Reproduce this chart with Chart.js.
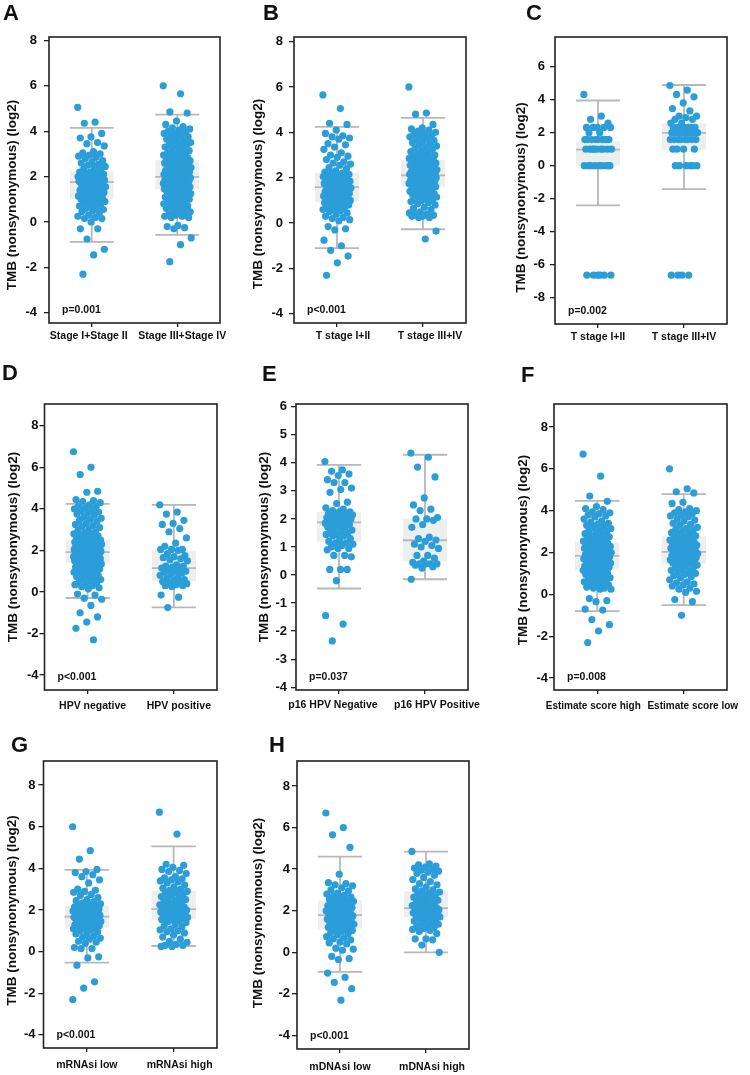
<!DOCTYPE html>
<html>
<head>
<meta charset="utf-8">
<script src="https://cdn.jsdelivr.net/npm/chart.js@4.4.1/dist/chart.umd.min.js"></script>
<style>
  body { margin: 0; background: #fff; width: 750px; height: 1075px; position: relative; overflow: hidden;
         font-family: "Liberation Sans", Arial, sans-serif; }
  canvas { position: absolute; }
  .letter { position: absolute; font-weight: bold; font-size: 22px; line-height: 1; color: #111; }
</style>
</head>
<body>
<script>
/* TMB by clinical group - jittered box plots */

// ---------- data ----------
const yTitle = 'TMB (nonsynonymous) (log2)';

// A: stage
const stageCats = ['Stage I+Stage II', 'Stage III+Stage IV'];
const stageLow = [5.05,4.4,4.35,3.9,3.75,3.7,3.5,3.45,3.35,3.1,3.05,3.0,2.95,2.9,2.85,2.8,2.7,2.65,2.6,2.55,2.5,2.45,2.4,2.35,2.3,
  2.2,2.2,2.15,2.15,2.1,2.1,2.05,2.05,2.0,2.0,2.0,1.95,1.95,1.9,1.9,1.9,1.85,1.85,1.85,1.8,1.8,1.8,1.8,1.75,1.75,
  1.7,1.7,1.65,1.6,1.6,1.55,1.5,1.5,1.45,1.4,1.4,1.35,1.3,1.3,1.25,1.2,1.2,1.15,1.15,1.1,1.1,1.05,1.05,1.0,1.0,
  0.95,0.9,0.85,0.8,0.8,0.75,0.7,0.65,0.6,0.55,0.5,0.45,0.4,0.3,0.25,0.2,0.15,0.15,0.0,-0.3,-0.3,-0.75,-1.2,-1.45,-2.3];
const stageHigh = [6.0,5.65,4.85,4.8,4.45,4.3,4.2,4.15,4.1,4.05,4.0,3.95,3.9,3.9,3.85,3.8,3.75,3.7,3.65,3.6,3.55,3.5,3.45,3.4,3.4,3.35,3.3,3.25,3.2,3.15,3.1,3.05,3.0,3.0,2.95,2.9,2.9,2.85,2.8,2.8,2.75,2.75,
  2.7,2.7,2.65,2.65,2.6,2.6,2.55,2.55,2.5,2.5,2.45,2.45,2.4,2.4,2.35,2.35,2.3,2.3,2.25,2.25,2.2,2.2,2.2,2.15,2.15,2.1,2.1,2.1,2.05,2.05,2.05,2.0,2.0,2.0,
  1.95,1.95,1.9,1.9,1.9,1.85,1.85,1.85,1.8,1.8,1.8,1.75,1.75,1.7,1.7,1.7,1.65,1.65,1.6,1.6,1.6,1.55,1.55,1.5,1.5,1.5,1.45,1.45,
  1.4,1.4,1.35,1.35,1.3,1.3,1.25,1.2,1.2,1.15,1.1,1.1,1.05,1.0,1.0,0.95,0.9,0.9,0.85,0.8,0.75,0.7,0.7,0.65,0.6,0.55,0.5,0.45,0.4,0.35,0.3,0.3,0.25,0.25,0.2,0.2,-0.15,-0.2,-0.25,-0.3,-0.7,-1.0,-1.75];
const stageBox = [[-0.88, 1.0, 1.76, 2.24, 4.15], [-0.57, 1.44, 1.99, 2.72, 4.73]]; // whisker lo, q1, median, q3, whisker hi
const stageTicks = [8, 6, 4, 2, 0, -2, -4];
const stageP = 'p=0.001';

// B: T stage
const tCats = ['T stage I+II', 'T stage III+IV'];
const tLow = [5.65,5.05,4.4,4.35,4.1,3.95,3.85,3.8,3.75,3.7,3.5,3.45,3.35,3.25,3.1,3.0,2.95,2.9,2.8,2.7,2.65,2.6,2.55,2.45,2.4,2.3,2.25,
  2.2,2.2,2.15,2.15,2.1,2.1,2.05,2.05,2.0,2.0,2.0,1.95,1.95,1.9,1.9,1.85,1.85,1.8,1.8,1.75,1.75,1.7,1.7,1.65,1.65,1.6,1.6,
  1.55,1.55,1.5,1.5,1.45,1.45,1.4,1.4,1.35,1.3,1.3,1.25,1.25,1.2,1.2,1.15,1.15,1.1,1.1,1.05,1.05,1.0,1.0,1.0,0.95,0.95,0.95,
  0.9,0.85,0.85,0.8,0.75,0.7,0.7,0.65,0.6,0.55,0.5,0.45,0.4,0.3,0.25,0.2,0.15,0.1,-0.15,-0.25,-0.3,-0.75,-1.0,-1.2,-1.45,-1.75,-2.3];
const tHigh = [6.0,4.85,4.8,4.35,4.2,4.15,4.1,4.05,4.0,3.95,3.9,3.85,3.85,3.8,3.75,3.7,3.65,3.6,3.55,3.5,3.45,3.4,3.35,3.3,3.25,3.2,3.15,3.1,3.05,3.0,3.0,2.95,2.9,2.9,2.85,2.85,2.8,2.8,
  2.75,2.75,2.7,2.7,2.65,2.65,2.6,2.6,2.55,2.55,2.5,2.5,2.45,2.45,2.4,2.4,2.4,2.35,2.35,2.3,2.3,2.3,2.25,2.25,2.25,2.2,2.2,2.2,2.15,2.15,2.15,2.1,2.1,
  2.05,2.05,2.05,2.0,2.0,2.0,1.95,1.95,1.95,1.9,1.9,1.9,1.85,1.85,1.85,1.8,1.8,1.8,1.75,1.75,1.7,1.7,1.7,1.65,1.65,1.6,1.6,
  1.55,1.5,1.5,1.45,1.4,1.4,1.35,1.3,1.3,1.25,1.2,1.2,1.15,1.1,1.05,1.0,1.0,0.95,0.9,0.85,0.8,0.7,0.65,0.6,0.5,0.45,0.4,0.4,0.35,0.3,0.3,0.25,0.25,-0.35,-0.7];
const tBox = [[-1.1, 0.93, 1.59, 2.22, 4.24], [-0.27, 1.59, 2.1, 2.77, 4.64]];
const tTicks = [8, 6, 4, 2, 0, -2, -4];
const tP = 'p<0.001';

// C: T stage (second cohort)
const t2Cats = ['T stage I+II', 'T stage III+IV'];
const t2Low = [4.32,3.0,2.81,2.58,2.32,2.32,2.32,2.32,2.32,2.0,2.0,
  1.58,1.58,1.58,1.58,1.58,1.58,1.58,1.58,1.58,1.0,1.0,1.0,1.0,1.0,1.0,1.0,1.0,1.0,
  0,0,0,0,0,0,0,0,0,-6.64,-6.64,-6.64,-6.64,-6.64,-6.64];
const t2High = [4.86,4.58,4.32,4.17,3.81,3.46,3.32,3.0,3.0,2.91,2.81,2.81,2.58,2.58,
  2.32,2.32,2.32,2.32,2.32,2.32,2.0,2.0,2.0,2.0,2.0,2.0,2.0,2.0,1.58,1.58,1.58,1.58,1.58,1.58,1.58,1.58,
  1.0,1.0,1.0,1.0,0,0,0,0,0,0,-6.64,-6.64,-6.64,-6.64];
const t2Box = [[-2.41, 0.0, 0.97, 1.48, 3.95], [-1.42, 0.97, 1.99, 2.56, 4.89]];
const t2Ticks = [6, 4, 2, 0, -2, -4, -6, -8];
const t2P = 'p=0.002';

// D: HPV
const hpvCats = ['HPV negative', 'HPV positive'];
const hpvNeg = [6.75,6.0,5.65,4.85,4.8,4.45,4.4,4.35,4.3,4.2,4.15,4.1,4.05,4.0,3.95,3.9,3.85,3.8,3.75,3.7,3.6,3.55,3.5,3.45,3.4,3.3,3.25,3.2,3.15,3.1,3.0,2.95,2.9,2.85,2.8,2.75,2.7,2.7,2.65,2.6,2.6,2.55,
  2.5,2.5,2.45,2.45,2.45,2.4,2.4,2.4,2.35,2.35,2.35,2.3,2.3,2.3,2.25,2.25,2.25,2.2,2.2,2.2,2.15,2.15,2.15,2.1,2.1,2.1,2.05,2.05,2.05,2.0,2.0,2.0,1.95,1.95,1.95,
  1.9,1.9,1.9,1.85,1.85,1.85,1.8,1.8,1.8,1.75,1.75,1.75,1.7,1.7,1.7,1.65,1.65,1.65,1.6,1.6,1.6,1.55,1.55,1.55,1.5,1.5,1.5,1.45,1.45,1.45,
  1.4,1.4,1.35,1.35,1.3,1.3,1.25,1.25,1.2,1.2,1.15,1.1,1.1,1.05,1.0,1.0,0.95,0.9,0.85,0.8,0.8,0.75,0.7,0.65,0.6,0.55,0.5,0.45,0.4,0.35,0.3,0.25,0.2,0.15,
  -0.1,-0.15,-0.3,-0.35,-0.65,-1.0,-1.2,-1.45,-1.75,-2.3];
const hpvPos = [4.2,3.85,3.75,3.45,3.3,3.25,3.05,2.9,2.6,2.35,2.2,2.05,2.05,2.05,2.0,1.85,1.75,1.7,1.65,1.6,1.55,1.5,1.3,1.25,1.25,
  1.2,1.15,1.1,1.05,1.0,1.0,0.95,0.9,0.85,0.8,0.7,0.65,0.6,0.55,0.5,0.45,0.4,0.4,0.35,0.3,0.3,0.25,-0.15,-0.25,-0.75];
const hpvBox = [[-0.29, 1.42, 1.92, 2.51, 4.24], [-0.74, 0.51, 1.15, 1.98, 4.19]];
const hpvTicks = [8, 6, 4, 2, 0, -2, -4];
const hpvP = 'p<0.001';

// E: p16
const p16Cats = ['p16 HPV Negative', 'p16 HPV Positive'];
const p16Neg = [4.05,3.75,3.7,3.6,3.55,3.4,3.3,3.3,3.1,3.05,2.95,2.6,2.55,2.4,2.35,2.3,2.25,2.25,2.2,2.2,2.15,2.15,2.1,2.1,2.1,
  2.05,2.05,2.0,2.0,2.0,1.95,1.95,1.9,1.9,1.85,1.85,1.8,1.8,1.75,1.7,1.7,1.65,1.6,1.55,1.5,1.5,1.45,1.45,1.4,1.4,
  1.3,1.25,1.2,1.15,1.15,1.1,1.05,1.0,0.95,0.95,0.9,0.7,0.7,0.65,0.2,0.2,0.2,-0.2,-1.45,-1.75,-2.35];
const p16Pos = [4.35,4.2,3.85,3.5,2.75,2.5,2.35,2.3,2.05,2.0,2.0,1.95,1.8,1.7,1.35,1.3,1.25,1.2,1.1,1.05,1.0,0.95,
  0.7,0.7,0.6,0.5,0.45,0.4,0.4,0.4,0.4,0.35,0.3,0.25,-0.15];
const p16Box = [[-0.48, 1.18, 1.88, 2.26, 3.93], [-0.15, 0.49, 1.24, 2.02, 4.29]];
const p16Ticks = [6, 5, 4, 3, 2, 1, 0, -1, -2, -3, -4];
const p16P = 'p=0.037';

// F: estimate score
const estCats = ['Estimate score high', 'Estimate score low'];
const estHigh = [6.7,5.65,4.7,4.45,4.2,4.1,4.05,3.95,3.9,3.85,3.8,3.75,3.7,3.6,3.5,3.45,3.4,3.35,3.3,3.25,3.2,3.15,3.1,3.05,3.0,2.95,2.9,2.85,2.8,2.75,2.7,2.65,2.6,2.6,2.55,2.5,
  2.45,2.45,2.4,2.4,2.35,2.35,2.3,2.3,2.25,2.25,2.2,2.2,2.15,2.15,2.1,2.1,2.05,2.05,2.0,2.0,2.0,1.95,1.95,1.9,1.9,1.85,1.85,
  1.8,1.8,1.75,1.75,1.7,1.7,1.65,1.65,1.6,1.6,1.55,1.55,1.5,1.5,1.45,1.45,1.4,1.4,1.35,1.35,1.3,1.3,1.25,1.25,1.2,1.2,
  1.15,1.1,1.05,1.0,1.0,0.95,0.9,0.85,0.8,0.75,0.7,0.65,0.65,0.6,0.55,0.5,0.45,0.4,0.35,0.3,0.3,0.25,0.25,-0.2,-0.3,-0.35,-0.7,-0.75,-1.2,-1.45,-1.75,-2.3];
const estLow = [6.0,5.05,4.9,4.85,4.4,4.35,4.1,4.05,4.0,3.95,3.9,3.85,3.8,3.75,3.7,3.6,3.55,3.5,3.4,3.35,3.3,3.2,3.15,3.1,3.05,3.0,2.95,2.9,2.85,2.8,
  2.75,2.7,2.7,2.65,2.6,2.6,2.55,2.5,2.5,2.45,2.4,2.4,2.35,2.3,2.3,2.25,2.2,2.2,2.15,2.1,2.1,2.05,2.05,2.0,
  2.0,1.95,1.95,1.9,1.9,1.85,1.85,1.8,1.8,1.75,1.75,1.7,1.7,1.65,1.65,1.6,1.6,1.55,1.55,1.5,1.5,
  1.45,1.4,1.35,1.3,1.25,1.2,1.15,1.1,1.05,1.0,0.95,0.9,0.85,0.8,0.7,0.6,0.55,0.5,0.45,0.4,0.3,0.25,0.15,0.1,-0.25,-0.35,-1.0];
const estBox = [[-0.8, 1.19, 1.84, 2.48, 4.47], [-0.51, 1.48, 2.03, 2.78, 4.79]];
const estTicks = [8, 6, 4, 2, 0, -2, -4];
const estP = 'p=0.008';

// G: mRNAsi
const mrnaCats = ['mRNAsi low', 'mRNAsi high'];
const mrnaLow = [6.0,4.85,4.45,3.95,3.85,3.8,3.7,3.6,3.45,3.3,3.0,2.95,2.9,2.85,2.75,2.7,2.6,2.5,2.45,2.4,2.35,2.3,2.25,
  2.2,2.2,2.15,2.15,2.1,2.1,2.05,2.05,2.0,2.0,2.0,1.95,1.95,1.9,1.9,1.85,1.85,1.8,1.8,1.75,1.75,1.7,1.7,
  1.65,1.65,1.6,1.6,1.55,1.55,1.5,1.5,1.45,1.45,1.4,1.4,1.35,1.35,1.3,1.3,1.25,1.25,1.2,1.2,1.15,1.15,
  1.1,1.05,1.0,0.95,0.9,0.85,0.75,0.7,0.65,0.6,0.5,0.45,0.4,0.2,0.15,0.15,-0.25,-0.3,-0.65,-1.45,-1.75,-2.3];
const mrnaHigh = [6.7,5.65,4.2,4.15,4.05,3.95,3.9,3.85,3.75,3.6,3.55,3.5,3.45,3.4,3.35,3.3,3.2,3.1,3.05,3.0,2.95,
  2.9,2.85,2.8,2.75,2.7,2.65,2.6,2.55,2.5,2.45,2.4,2.35,2.3,2.25,2.2,2.2,2.15,2.1,2.1,2.05,2.05,
  2.0,2.0,1.95,1.95,1.9,1.9,1.85,1.85,1.8,1.8,1.75,1.7,1.7,1.65,1.65,1.6,1.6,1.55,1.55,
  1.5,1.45,1.4,1.3,1.25,1.2,1.1,1.05,1.0,0.95,0.9,0.8,0.7,0.6,0.5,0.45,0.35,0.3,0.3,0.25,0.25];
const mrnaBox = [[-0.53, 1.15, 1.68, 2.21, 3.93], [0.27, 1.55, 2.04, 2.92, 5.06]];
const mrnaTicks = [8, 6, 4, 2, 0, -2, -4];
const mrnaP = 'p<0.001';

// H: mDNAsi
const mdnaCats = ['mDNAsi low', 'mDNAsi high'];
const mdnaLow = [6.7,6.0,5.65,5.05,3.75,3.35,3.3,3.25,3.2,3.1,3.0,2.95,2.85,2.8,2.75,2.7,2.65,2.6,2.55,2.5,
  2.45,2.45,2.4,2.35,2.3,2.3,2.25,2.2,2.2,2.15,2.1,2.1,2.05,2.0,2.0,1.95,1.95,1.9,1.9,1.85,1.85,1.8,
  1.75,1.75,1.7,1.7,1.65,1.6,1.6,1.55,1.5,1.5,1.45,1.4,1.4,1.35,1.3,1.3,1.25,1.2,1.2,1.15,
  1.1,1.05,1.0,0.95,0.9,0.85,0.75,0.7,0.65,0.6,0.5,0.45,0.4,0.2,0.15,0.1,-0.2,-0.3,-0.35,-1.0,-1.2,-1.45,-1.75,-2.3];
const mdnaHigh = [4.85,4.25,4.2,4.15,4.1,4.05,4.0,3.95,3.9,3.85,3.8,3.7,3.6,3.5,3.4,3.3,3.25,3.15,3.05,3.0,2.95,
  2.9,2.85,2.8,2.75,2.7,2.65,2.6,2.55,2.5,2.45,2.4,2.35,2.3,2.25,2.2,2.2,2.15,2.15,
  2.1,2.1,2.05,2.05,2.0,2.0,1.95,1.95,1.9,1.9,1.85,1.85,1.8,1.8,1.75,1.75,1.7,1.7,
  1.65,1.6,1.55,1.5,1.45,1.4,1.35,1.3,1.25,1.2,1.15,1.1,1.05,1.0,0.9,0.65,0.65,0.6,0.35,0.0];
const mdnaBox = [[-0.94, 1.13, 1.79, 2.49, 4.6], [0.0, 1.69, 2.12, 2.94, 4.84]];
const mdnaTicks = [8, 6, 4, 2, 0, -2, -4];
const mdnaP = 'p<0.001';

// ---------- layout ----------
// frame = plot box [left, top, right, bottom] in page pixels; catShift nudges each category label (px)
const panels = [
  { letter: 'A', at: [3, 2],     frame: [49, 37, 220, 323],   yMin: -4.45, yMax: 8.15, cats: stageCats, groups: [stageLow, stageHigh], box: stageBox, ticks: stageTicks, p: stageP, titleGap: 37, titleShift: 15, tickGap: 12, catFont: 10.5, catShift: [-3, 5], catDy: 13 },
  { letter: 'B', at: [263, 2],   frame: [294, 37, 466, 323],  yMin: -4.4, yMax: 8.2,   cats: tCats, groups: [tLow, tHigh], box: tBox, ticks: tTicks, p: tP, titleGap: 36, titleShift: 14, tickGap: 11, catFont: 10.5, catShift: [6, 7], catDy: 13 },
  { letter: 'C', at: [526, 2],   frame: [555, 37, 727, 324],  yMin: -9.6, yMax: 7.8,   cats: t2Cats, groups: [t2Low, t2High], box: t2Box, ticks: t2Ticks, p: t2P, titleGap: 34, titleShift: 17, tickGap: 10, catFont: 10.5, catShift: [0, 0], catDy: 13 },
  { letter: 'D', at: [2, 362],   frame: [44, 404, 217, 690],  yMin: -4.72, yMax: 9.05, cats: hpvCats, groups: [hpvNeg, hpvPos], box: hpvBox, ticks: hpvTicks, p: hpvP, titleGap: 31.5, titleShift: 0, tickGap: 5, catFont: 10.5, catShift: [5, 5], catDy: 16 },
  { letter: 'E', at: [262, 363], frame: [296, 404, 468, 690], yMin: -4.1, yMax: 6.1,   cats: p16Cats, groups: [p16Neg, p16Pos], box: p16Box, ticks: p16Ticks, p: p16P, titleGap: 32, titleShift: 0, tickGap: 9, catFont: 10.5, catShift: [-6, 12], catDy: 15 },
  { letter: 'F', at: [521, 364], frame: [554, 404, 727, 690], yMin: -4.57, yMax: 9.1,  cats: estCats, groups: [estHigh, estLow], box: estBox, ticks: estTicks, p: estP, titleGap: 31, titleShift: 3, tickGap: 6, catFont: 10, catShift: [-4, 9], catDy: 16 },
  { letter: 'G', at: [11, 734],  frame: [43, 761, 217, 1048], yMin: -4.63, yMax: 9.16, cats: mrnaCats, groups: [mrnaLow, mrnaHigh], box: mrnaBox, ticks: mrnaTicks, p: mrnaP, titleGap: 31.5, titleShift: 6, tickGap: 8, catFont: 10.5, catShift: [0, 6], catDy: 17 },
  { letter: 'H', at: [269, 734], frame: [297, 761, 469, 1049], yMin: -4.65, yMax: 9.2, cats: mdnaCats, groups: [mdnaLow, mdnaHigh], box: mdnaBox, ticks: mdnaTicks, p: mdnaP, titleGap: 39, titleShift: 8, tickGap: 7, catFont: 10.5, catShift: [0, 6], catDy: 18 },
];

const BLUE = '#2b9dd8';
const WHISKER = '#b8b8b8';
const BOXFILL = '#edeeee';
const FONT = '"Liberation Sans", Arial, sans-serif';
const JITTER = 0.164;   // half spread of points, x units
const HALF = 0.257;     // half width of box and caps, x units
const PAD_TOP = 18, PAD_RIGHT = 12, X_AXIS_H = 32;

function jitter(vals, cx) {
  return vals.map((v, i) => ({ x: cx + (((i * 0.618034) % 1) - 0.5) * 2 * JITTER, y: v }));
}

// frame, p value, y title and category labels
const framePlugin = {
  id: 'frame',
  afterDraw(chart, args, opts) {
    const { ctx, chartArea: a } = chart;
    const xs = chart.scales.x;
    ctx.save();
    ctx.strokeStyle = '#222';
    ctx.lineWidth = 1.6;
    ctx.strokeRect(a.left, a.top, a.right - a.left, a.bottom - a.top);
    ctx.fillStyle = '#111';
    ctx.font = 'bold 10.5px ' + FONT;
    ctx.textAlign = 'left';
    ctx.textBaseline = 'alphabetic';
    ctx.fillText(opts.p, a.left + 13, a.bottom - 10);

    ctx.font = 'bold ' + opts.catFont + 'px ' + FONT;
    ctx.textAlign = 'center';
    ctx.textBaseline = 'middle';
    opts.cats.forEach((c, i) => {
      ctx.fillText(c, xs.getPixelForValue(i) + opts.catShift[i], a.bottom + opts.catDy);
    });

    ctx.translate(a.left - opts.titleGap, (a.top + a.bottom) / 2 + opts.titleShift);
    ctx.rotate(-Math.PI / 2);
    ctx.font = 'bold 13.5px ' + FONT;
    ctx.fillText(yTitle, 0, 0);
    ctx.restore();
  }
};

panels.forEach(p => {
  const [L, T, R, B] = p.frame;
  const W = p.titleGap + 12;
  const cv = document.createElement('canvas');
  cv.width = W + (R - L) + PAD_RIGHT;
  cv.height = PAD_TOP + (B - T) + X_AXIS_H;
  cv.style.left = (L - W) + 'px';
  cv.style.top = (T - PAD_TOP) + 'px';
  document.body.appendChild(cv);

  const lbl = document.createElement('div');
  lbl.className = 'letter';
  lbl.textContent = p.letter;
  lbl.style.left = p.at[0] + 'px';
  lbl.style.top = p.at[1] + 'px';
  document.body.appendChild(lbl);

  const datasets = [];
  p.groups.forEach((vals, g) => {
    const [lo, q1, med, q3, hi] = p.box[g];
    datasets.push({ type: 'scatter', data: jitter(vals, g), order: 0,
      pointRadius: 3.6, pointBackgroundColor: BLUE, pointBorderWidth: 0 });
    datasets.push({ type: 'line', order: 1, data: [{ x: g - HALF, y: med }, { x: g + HALF, y: med }],
      borderColor: WHISKER, borderWidth: 1.8, pointRadius: 0 });
    datasets.push({ type: 'line', order: 2, data: [{ x: g - HALF, y: q3 }, { x: g + HALF, y: q3 }],
      borderWidth: 0, pointRadius: 0, fill: { value: q1 }, backgroundColor: BOXFILL });
    datasets.push({ type: 'line', order: 3, spanGaps: false,
      data: [{ x: g - HALF, y: hi }, { x: g + HALF, y: hi }, { x: g, y: null },
             { x: g, y: hi }, { x: g, y: lo }, { x: g, y: null },
             { x: g - HALF, y: lo }, { x: g + HALF, y: lo }],
      borderColor: WHISKER, borderWidth: 1.8, pointRadius: 0 });
  });

  new Chart(cv.getContext('2d'), {
    type: 'scatter',
    data: { datasets },
    options: {
      responsive: false,
      animation: false,
      devicePixelRatio: 1,
      layout: { padding: { top: PAD_TOP, right: PAD_RIGHT, left: 0, bottom: 0 } },
      plugins: {
        legend: { display: false }, tooltip: { enabled: false },
        frame: { p: p.p, cats: p.cats, catFont: p.catFont, catShift: p.catShift, catDy: p.catDy,
                 titleGap: p.titleGap, titleShift: p.titleShift }
      },
      scales: {
        x: {
          type: 'linear', min: -0.5, max: 1.5,
          afterBuildTicks: s => { s.ticks = [{ value: 0 }, { value: 1 }]; },
          afterFit: s => { s.height = X_AXIS_H; },
          ticks: { display: false },
          grid: { drawOnChartArea: false, drawTicks: true, tickLength: 4, color: '#222', lineWidth: 1.3 },
          border: { display: false }
        },
        y: {
          min: p.yMin, max: p.yMax,
          afterBuildTicks: s => { s.ticks = p.ticks.map(v => ({ value: v })); },
          afterFit: s => { s.width = W; },
          ticks: { color: '#111', padding: Math.max(p.tickGap - 5, 1),
                   font: { family: FONT, size: 13, weight: 'bold' } },
          grid: { drawOnChartArea: false, drawTicks: true, tickLength: 5, color: '#222', lineWidth: 1.3 },
          border: { display: false }
        }
      }
    },
    plugins: [framePlugin]
  });
});
</script>
</body>
</html>
